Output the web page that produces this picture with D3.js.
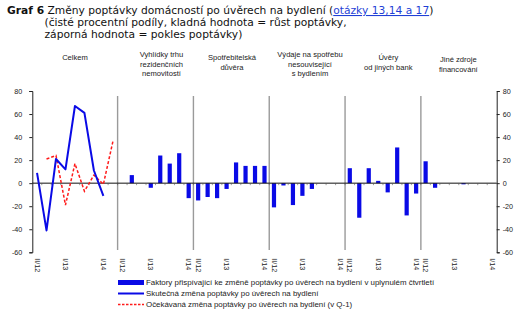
<!DOCTYPE html>
<html>
<head>
<meta charset="utf-8">
<script src="https://cdn.jsdelivr.net/npm/d3@7"></script>
<style>
  html, body { margin: 0; padding: 0; background: #fff; }
  svg { display: block; }
</style>
</head>
<body>
<svg id="chart" width="520" height="325"></svg>
<script>
// Quarters shown in each panel (the first panel also carries the next-quarter expectation)
const quarters = ["II/12", "III/12", "IV/12", "I/13", "II/13", "III/13", "IV/13", "I/14", "II/14"];
const labelledQuarters = ["II/12", "I/13", "I/14"];

const panelTitles = [
  ["Celkem"],
  ["Vyhlídky trhu", "rezidenčních", "nemovitostí"],
  ["Spotřebitelská", "důvěra"],
  ["Výdaje na spotřebu", "nesouvisející", "s bydlením"],
  ["Úvěry", "od jiných bank"],
  ["Jiné zdroje", "financování"]
];

// Panel 1: actual change (II/12–I/14) and expected change (III/12–II/14)
const actualChange   = [9, -41, 21, 12, 67, 61, 11, -11];
const expectedChange = [null, 21, 24, -19, 17, -7, 7, -1, 36];

// Panels 2–6: contributing factors (II/12–I/14)
const factorHousing     = [0, 7, 0, -4, 24, 17, 26, -13];
const factorConfidence  = [-15, -12, -13, -5, 18, 15, 15, 15];
const factorConsumption = [-21, -2, -19, -11, -5, 0, 0, 0];
const factorOtherBanks  = [13, -30, 13, 2, -8, 31, -28, -9];
const factorOtherFunds  = [19, -4, 0, 0, -1, 0, 0, 0];

const yTicks = [-60, -40, -20, 0, 20, 40, 60, 80];

const legendItems = [
  "Faktory přispívající ke změně poptávky po úvěrech na bydlení v uplynulém čtvrtletí",
  "Skutečná změna poptávky po úvěrech na bydlení",
  "Očekávaná změna poptávky po úvěrech na bydlení (v Q-1)"
];

const BLUE = "#0a0ae6";
const RED = "#ff1a1a";
const FONT = "'Liberation Sans', Arial, sans-serif";

const factorSeries = [factorHousing, factorConfidence, factorConsumption, factorOtherBanks, factorOtherFunds];

// Build the continuous category axis: panel 0 has 9 quarters, the others 8
const slots = [];
panelTitles.forEach((t, p) => {
  const qs = p === 0 ? quarters : quarters.slice(0, 8);
  qs.forEach((q, i) => slots.push({ key: p + "|" + q, panel: p, q, i }));
});
const keyOf = (p, q) => p + "|" + q;

const svg = d3.select("#chart");

const x = d3.scaleBand().domain(slots.map(s => s.key)).range([32.3, 496.7]).padding(0);
const y = d3.scaleLinear().domain([-60, 80]).range([252.3, 91]);
const cx = k => x(k) + x.bandwidth() / 2;

// ---- Title ----
const title = svg.append("g").attr("font-family", "'DejaVu Sans', Verdana, sans-serif").attr("font-size", 10.7).attr("fill", "#111");
const t1 = title.append("text").attr("x", 7).attr("y", 14);
t1.append("tspan").attr("font-weight", "bold").text("Graf 6");
t1.append("tspan").text(" Změny poptávky domácností po úvěrech na bydlení (");
t1.append("tspan").attr("fill", "#1f3fd6").style("text-decoration", "underline").text("otázky 13,14 a 17");
t1.append("tspan").text(")");
title.append("text").attr("x", 44.5).attr("y", 26).text("(čisté procentní podíly, kladná hodnota = růst poptávky,");
title.append("text").attr("x", 44.5).attr("y", 38).text("záporná hodnota = pokles poptávky)");

// ---- Panel headings ----
const headCenters = [75, 161.5, 232, 310, 388.3, 458.3];
const headTop = [57.7, 54.3, 57.7, 54.3, 57.7, 59.3];
panelTitles.forEach((lines, p) => {
  const t = svg.append("text")
    .attr("font-family", FONT).attr("font-size", 7.6).attr("fill", "#222")
    .attr("text-anchor", "middle");
  lines.forEach((l, i) => {
    t.append("tspan").attr("x", headCenters[p]).attr("y", headTop[p] + 2.7 + i * 9.6).text(l);
  });
});

// ---- Panel separators ----
const boundaries = [];
for (let p = 1; p < panelTitles.length; p++) {
  boundaries.push(x(keyOf(p, "II/12")));
}
svg.append("g").selectAll("line").data(boundaries).join("line")
  .attr("x1", d => d).attr("x2", d => d)
  .attr("y1", 96).attr("y2", 250)
  .attr("stroke", "#9a9a9a").attr("stroke-width", 1.4);

// ---- Y axes ----
const styleAxis = g => {
  g.selectAll("text").attr("font-family", FONT).attr("font-size", 7.2).attr("fill", "#222");
  g.select(".domain").attr("stroke", "#222").attr("stroke-width", 1);
  g.selectAll(".tick line").attr("stroke", "#222");
};
const fmt = d => String(d);
svg.append("g").attr("transform", "translate(32.3,0)")
  .call(d3.axisLeft(y).tickValues(yTicks).tickFormat(fmt).tickSize(3).tickSizeOuter(3).tickPadding(7))
  .call(styleAxis);
svg.append("g").attr("transform", "translate(496.7,0)")
  .call(d3.axisRight(y).tickValues(yTicks).tickFormat(fmt).tickSize(3).tickSizeOuter(3).tickPadding(3))
  .call(styleAxis);

// ---- Factor bars ----
const barData = [];
factorSeries.forEach((vals, s) => {
  vals.forEach((v, i) => barData.push({ key: keyOf(s + 1, quarters[i]), v }));
});
svg.append("g").selectAll("rect").data(barData.filter(d => d.v !== 0)).join("rect")
  .attr("x", d => cx(d.key) - 2.1)
  .attr("width", 4.2)
  .attr("y", d => Math.min(y(d.v), y(0)))
  .attr("height", d => Math.abs(y(d.v) - y(0)))
  .attr("fill", BLUE);

// ---- Zero line with small category ticks ----
svg.append("line")
  .attr("x1", 32.3).attr("x2", 496.7).attr("y1", y(0)).attr("y2", y(0))
  .attr("stroke", "#111").attr("stroke-width", 1);
svg.append("g").selectAll("line").data(slots.slice(1)).join("line")
  .attr("x1", d => x(d.key)).attr("x2", d => x(d.key))
  .attr("y1", y(0)).attr("y2", y(0) + 2)
  .attr("stroke", "#555").attr("stroke-width", 0.6);

// ---- Panel 1 lines ----
const actualPts = actualChange.map((v, i) => ({ k: keyOf(0, quarters[i]), v }));
const expectedPts = expectedChange.map((v, i) => ({ k: keyOf(0, quarters[i]), v }));
const line = d3.line().defined(d => d.v !== null).x(d => cx(d.k)).y(d => y(d.v));

svg.append("path").datum(expectedPts)
  .attr("d", line).attr("fill", "none")
  .attr("stroke", RED).attr("stroke-width", 1.5).attr("stroke-dasharray", "3,2");
svg.append("path").datum(actualPts)
  .attr("d", line).attr("fill", "none")
  .attr("stroke", BLUE).attr("stroke-width", 2).attr("stroke-linejoin", "round");

// ---- Category labels ----
const labelKeys = slots.filter(s => labelledQuarters.includes(s.q)).map(s => s.key);
const xAxis = svg.append("g").attr("transform", "translate(0,252.3)")
  .call(d3.axisBottom(x).tickValues(labelKeys).tickSize(0).tickFormat(k => k.split("|")[1]));
xAxis.select(".domain").remove();
xAxis.selectAll("text")
  .attr("font-family", FONT).attr("font-size", 7.2).attr("fill", "#222")
  .attr("transform", "rotate(90)")
  .attr("text-anchor", "start")
  .attr("dy", "0.32em")
  .attr("x", 6).attr("y", 0);

// ---- Legend ----
const lg = svg.append("g").attr("font-family", FONT).attr("font-size", 7.9).attr("fill", "#222");
const ly = [282.5, 293.5, 304.5];
lg.append("rect").attr("x", 118).attr("y", ly[0] - 2.5).attr("width", 26).attr("height", 5).attr("fill", BLUE);
lg.append("line").attr("x1", 118).attr("x2", 144).attr("y1", ly[1]).attr("y2", ly[1]).attr("stroke", BLUE).attr("stroke-width", 2);
lg.append("line").attr("x1", 118).attr("x2", 144).attr("y1", ly[2]).attr("y2", ly[2]).attr("stroke", RED).attr("stroke-width", 1.3).attr("stroke-dasharray", "2.5,1.5");
legendItems.forEach((t, i) => {
  lg.append("text").attr("x", 146).attr("y", ly[i] + 2.8).text(t);
});
</script>
</body>
</html>
